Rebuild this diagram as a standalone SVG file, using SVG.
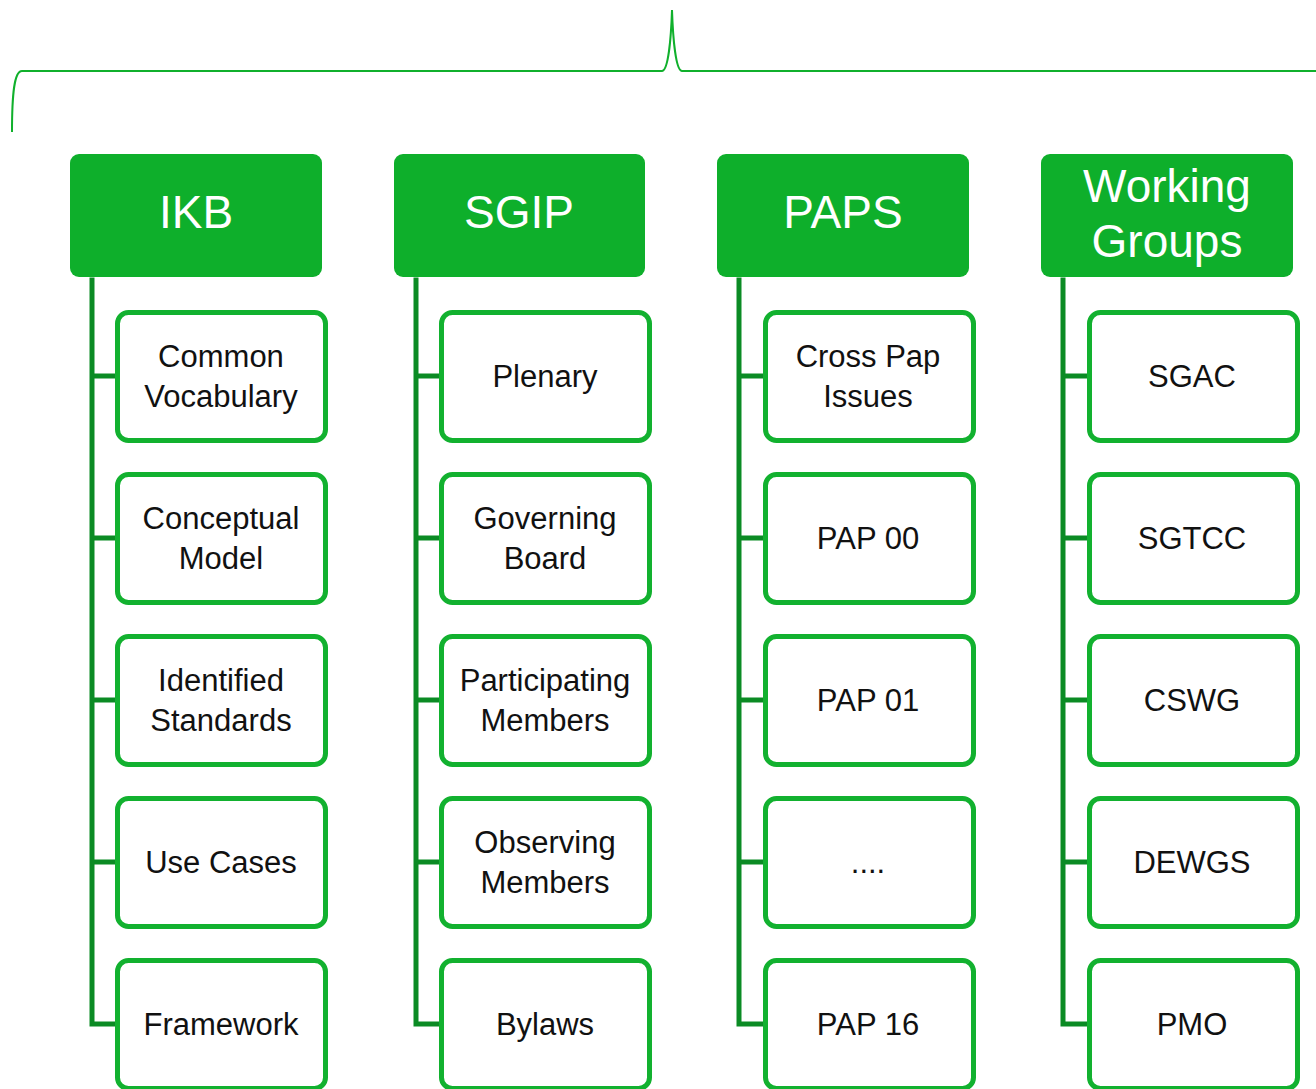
<svg xmlns="http://www.w3.org/2000/svg" width="1316" height="1089" viewBox="0 0 1316 1089">
<style>
.hdr{fill:#0eaf2b;}
.box{fill:#ffffff;stroke:#12b12f;stroke-width:5;}
.ln{fill:none;stroke:#0b8b24;stroke-width:5;stroke-linecap:square;}
.brace{fill:none;stroke:#10b02c;stroke-width:2;}
.ht{font-family:"Liberation Sans",Arial,sans-serif;font-size:46px;fill:#ffffff;text-anchor:middle;}
.ct{font-family:"Liberation Sans",Arial,sans-serif;font-size:31px;fill:#111111;text-anchor:middle;}
</style>
<rect width="1316" height="1089" fill="#ffffff"/>
<path class="brace" d="M12,132 C12,95 14,71 22,71 L662,71 C668,71 671,40 672,10 C673,40 676,71 682,71 L1316,71"/>
<g id="connectors">
<path class="ln" d="M92,280 V1024 M92,376 H117 M92,538 H117 M92,700 H117 M92,862 H117 M92,1024 H117"/>
<path class="ln" d="M416,280 V1024 M416,376 H441 M416,538 H441 M416,700 H441 M416,862 H441 M416,1024 H441"/>
<path class="ln" d="M739,280 V1024 M739,376 H764 M739,538 H764 M739,700 H764 M739,862 H764 M739,1024 H764"/>
<path class="ln" d="M1063,280 V1024 M1063,376 H1088 M1063,538 H1088 M1063,700 H1088 M1063,862 H1088 M1063,1024 H1088"/>
</g>
<g id="ikb"><rect class="hdr" x="70" y="154" width="252" height="123" rx="9"/><text class="ht" x="196" y="228">IKB</text></g>
<g id="sgip"><rect class="hdr" x="394" y="154" width="251" height="123" rx="9"/><text class="ht" x="519" y="228">SGIP</text></g>
<g id="paps"><rect class="hdr" x="717" y="154" width="252" height="123" rx="9"/><text class="ht" x="843" y="228">PAPS</text></g>
<g id="wg"><rect class="hdr" x="1041" y="154" width="252" height="123" rx="9"/><text class="ht" x="1167" y="202">Working</text><text class="ht" x="1167" y="257">Groups</text></g>

<g id="ikb1"><rect class="box" x="117.5" y="312.5" width="208" height="128" rx="11"/><text class="ct" x="221" y="367">Common</text><text class="ct" x="221" y="407">Vocabulary</text></g>
<g id="ikb2"><rect class="box" x="117.5" y="474.5" width="208" height="128" rx="11"/><text class="ct" x="221" y="529">Conceptual</text><text class="ct" x="221" y="569">Model</text></g>
<g id="ikb3"><rect class="box" x="117.5" y="636.5" width="208" height="128" rx="11"/><text class="ct" x="221" y="691">Identified</text><text class="ct" x="221" y="731">Standards</text></g>
<g id="ikb4"><rect class="box" x="117.5" y="798.5" width="208" height="128" rx="11"/><text class="ct" x="221" y="873">Use Cases</text></g>
<g id="ikb5"><rect class="box" x="117.5" y="960.5" width="208" height="128" rx="11"/><text class="ct" x="221" y="1035">Framework</text></g>

<g id="sgip1"><rect class="box" x="441.5" y="312.5" width="208" height="128" rx="11"/><text class="ct" x="545" y="387">Plenary</text></g>
<g id="sgip2"><rect class="box" x="441.5" y="474.5" width="208" height="128" rx="11"/><text class="ct" x="545" y="529">Governing</text><text class="ct" x="545" y="569">Board</text></g>
<g id="sgip3"><rect class="box" x="441.5" y="636.5" width="208" height="128" rx="11"/><text class="ct" x="545" y="691">Participating</text><text class="ct" x="545" y="731">Members</text></g>
<g id="sgip4"><rect class="box" x="441.5" y="798.5" width="208" height="128" rx="11"/><text class="ct" x="545" y="853">Observing</text><text class="ct" x="545" y="893">Members</text></g>
<g id="sgip5"><rect class="box" x="441.5" y="960.5" width="208" height="128" rx="11"/><text class="ct" x="545" y="1035">Bylaws</text></g>

<g id="paps1"><rect class="box" x="765.5" y="312.5" width="208" height="128" rx="11"/><text class="ct" x="868" y="367">Cross Pap</text><text class="ct" x="868" y="407">Issues</text></g>
<g id="paps2"><rect class="box" x="765.5" y="474.5" width="208" height="128" rx="11"/><text class="ct" x="868" y="549">PAP 00</text></g>
<g id="paps3"><rect class="box" x="765.5" y="636.5" width="208" height="128" rx="11"/><text class="ct" x="868" y="711">PAP 01</text></g>
<g id="paps4"><rect class="box" x="765.5" y="798.5" width="208" height="128" rx="11"/><text class="ct" x="868" y="873">....</text></g>
<g id="paps5"><rect class="box" x="765.5" y="960.5" width="208" height="128" rx="11"/><text class="ct" x="868" y="1035">PAP 16</text></g>

<g id="wg1"><rect class="box" x="1089.5" y="312.5" width="208" height="128" rx="11"/><text class="ct" x="1192" y="387">SGAC</text></g>
<g id="wg2"><rect class="box" x="1089.5" y="474.5" width="208" height="128" rx="11"/><text class="ct" x="1192" y="549">SGTCC</text></g>
<g id="wg3"><rect class="box" x="1089.5" y="636.5" width="208" height="128" rx="11"/><text class="ct" x="1192" y="711">CSWG</text></g>
<g id="wg4"><rect class="box" x="1089.5" y="798.5" width="208" height="128" rx="11"/><text class="ct" x="1192" y="873">DEWGS</text></g>
<g id="wg5"><rect class="box" x="1089.5" y="960.5" width="208" height="128" rx="11"/><text class="ct" x="1192" y="1035">PMO</text></g>
</svg>
